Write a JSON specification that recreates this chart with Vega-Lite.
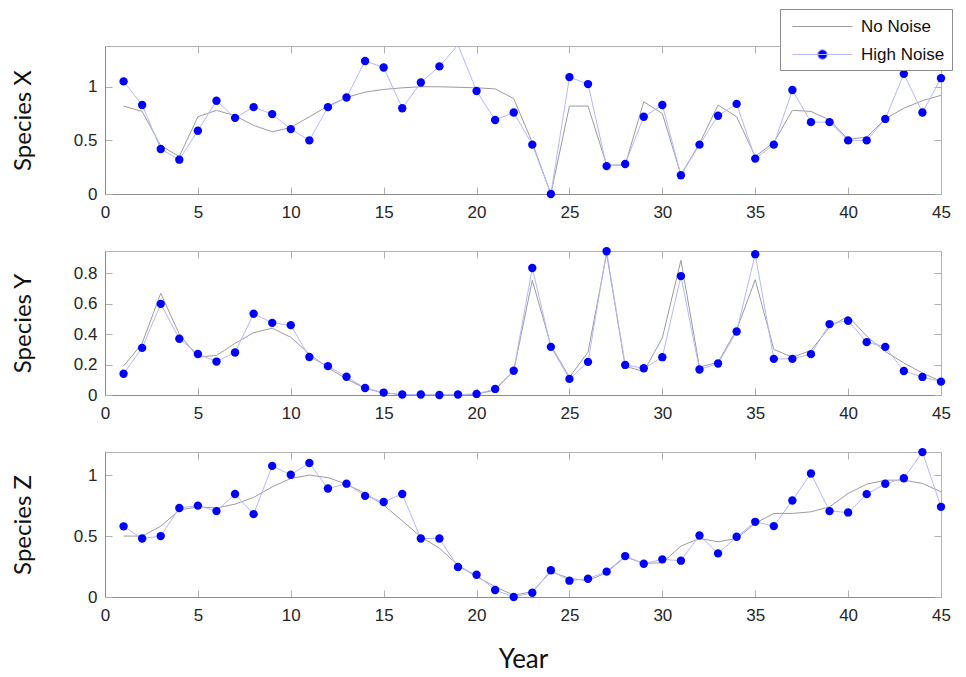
{
  "$schema": "https://vega.github.io/schema/vega-lite/v6.json",
  "padding": {"left": 10, "top": 8, "right": 0, "bottom": 0},
  "background": "white",
  "datasets": {
    "d": [
      {"sp":"X","year":1,"No Noise":0.82,"High Noise":1.05},
      {"sp":"X","year":2,"No Noise":0.77,"High Noise":0.83},
      {"sp":"X","year":3,"No Noise":0.45,"High Noise":0.42},
      {"sp":"X","year":4,"No Noise":0.35,"High Noise":0.32},
      {"sp":"X","year":5,"No Noise":0.72,"High Noise":0.59},
      {"sp":"X","year":6,"No Noise":0.78,"High Noise":0.87},
      {"sp":"X","year":7,"No Noise":0.73,"High Noise":0.71},
      {"sp":"X","year":8,"No Noise":0.64,"High Noise":0.81},
      {"sp":"X","year":9,"No Noise":0.58,"High Noise":0.745},
      {"sp":"X","year":10,"No Noise":0.62,"High Noise":0.605},
      {"sp":"X","year":11,"No Noise":0.72,"High Noise":0.50},
      {"sp":"X","year":12,"No Noise":0.82,"High Noise":0.81},
      {"sp":"X","year":13,"No Noise":0.90,"High Noise":0.90},
      {"sp":"X","year":14,"No Noise":0.95,"High Noise":1.24},
      {"sp":"X","year":15,"No Noise":0.975,"High Noise":1.18},
      {"sp":"X","year":16,"No Noise":0.99,"High Noise":0.80},
      {"sp":"X","year":17,"No Noise":1.0,"High Noise":1.04},
      {"sp":"X","year":18,"No Noise":1.0,"High Noise":1.19},
      {"sp":"X","year":19,"No Noise":0.995,"High Noise":1.39},
      {"sp":"X","year":20,"No Noise":0.99,"High Noise":0.96},
      {"sp":"X","year":21,"No Noise":0.98,"High Noise":0.69},
      {"sp":"X","year":22,"No Noise":0.89,"High Noise":0.76},
      {"sp":"X","year":23,"No Noise":0.48,"High Noise":0.46},
      {"sp":"X","year":24,"No Noise":0.0,"High Noise":0.0},
      {"sp":"X","year":25,"No Noise":0.82,"High Noise":1.09},
      {"sp":"X","year":26,"No Noise":0.82,"High Noise":1.025},
      {"sp":"X","year":27,"No Noise":0.27,"High Noise":0.26},
      {"sp":"X","year":28,"No Noise":0.27,"High Noise":0.28},
      {"sp":"X","year":29,"No Noise":0.86,"High Noise":0.72},
      {"sp":"X","year":30,"No Noise":0.75,"High Noise":0.83},
      {"sp":"X","year":31,"No Noise":0.18,"High Noise":0.175},
      {"sp":"X","year":32,"No Noise":0.47,"High Noise":0.46},
      {"sp":"X","year":33,"No Noise":0.83,"High Noise":0.73},
      {"sp":"X","year":34,"No Noise":0.72,"High Noise":0.84},
      {"sp":"X","year":35,"No Noise":0.35,"High Noise":0.33},
      {"sp":"X","year":36,"No Noise":0.48,"High Noise":0.46},
      {"sp":"X","year":37,"No Noise":0.78,"High Noise":0.97},
      {"sp":"X","year":38,"No Noise":0.77,"High Noise":0.67},
      {"sp":"X","year":39,"No Noise":0.69,"High Noise":0.67},
      {"sp":"X","year":40,"No Noise":0.51,"High Noise":0.50},
      {"sp":"X","year":41,"No Noise":0.53,"High Noise":0.50},
      {"sp":"X","year":42,"No Noise":0.70,"High Noise":0.70},
      {"sp":"X","year":43,"No Noise":0.80,"High Noise":1.12},
      {"sp":"X","year":44,"No Noise":0.87,"High Noise":0.76},
      {"sp":"X","year":45,"No Noise":0.92,"High Noise":1.08},
      {"sp":"Y","year":1,"No Noise":0.19,"High Noise":0.14},
      {"sp":"Y","year":2,"No Noise":0.34,"High Noise":0.31},
      {"sp":"Y","year":3,"No Noise":0.67,"High Noise":0.60},
      {"sp":"Y","year":4,"No Noise":0.40,"High Noise":0.37},
      {"sp":"Y","year":5,"No Noise":0.25,"High Noise":0.27},
      {"sp":"Y","year":6,"No Noise":0.26,"High Noise":0.22},
      {"sp":"Y","year":7,"No Noise":0.34,"High Noise":0.28},
      {"sp":"Y","year":8,"No Noise":0.41,"High Noise":0.535},
      {"sp":"Y","year":9,"No Noise":0.44,"High Noise":0.475},
      {"sp":"Y","year":10,"No Noise":0.38,"High Noise":0.46},
      {"sp":"Y","year":11,"No Noise":0.27,"High Noise":0.25},
      {"sp":"Y","year":12,"No Noise":0.18,"High Noise":0.19},
      {"sp":"Y","year":13,"No Noise":0.106,"High Noise":0.12},
      {"sp":"Y","year":14,"No Noise":0.044,"High Noise":0.046},
      {"sp":"Y","year":15,"No Noise":0.013,"High Noise":0.016},
      {"sp":"Y","year":16,"No Noise":0.003,"High Noise":0.003},
      {"sp":"Y","year":17,"No Noise":0.0,"High Noise":0.003},
      {"sp":"Y","year":18,"No Noise":0.0,"High Noise":0.0},
      {"sp":"Y","year":19,"No Noise":0.0,"High Noise":0.003},
      {"sp":"Y","year":20,"No Noise":0.005,"High Noise":0.007},
      {"sp":"Y","year":21,"No Noise":0.033,"High Noise":0.04},
      {"sp":"Y","year":22,"No Noise":0.16,"High Noise":0.16},
      {"sp":"Y","year":23,"No Noise":0.755,"High Noise":0.836},
      {"sp":"Y","year":24,"No Noise":0.326,"High Noise":0.317},
      {"sp":"Y","year":25,"No Noise":0.117,"High Noise":0.106},
      {"sp":"Y","year":26,"No Noise":0.282,"High Noise":0.218},
      {"sp":"Y","year":27,"No Noise":0.93,"High Noise":0.946},
      {"sp":"Y","year":28,"No Noise":0.19,"High Noise":0.198},
      {"sp":"Y","year":29,"No Noise":0.154,"High Noise":0.176},
      {"sp":"Y","year":30,"No Noise":0.376,"High Noise":0.249},
      {"sp":"Y","year":31,"No Noise":0.887,"High Noise":0.783},
      {"sp":"Y","year":32,"No Noise":0.183,"High Noise":0.168},
      {"sp":"Y","year":33,"No Noise":0.216,"High Noise":0.207},
      {"sp":"Y","year":34,"No Noise":0.43,"High Noise":0.418},
      {"sp":"Y","year":35,"No Noise":0.759,"High Noise":0.927},
      {"sp":"Y","year":36,"No Noise":0.30,"High Noise":0.238},
      {"sp":"Y","year":37,"No Noise":0.249,"High Noise":0.238},
      {"sp":"Y","year":38,"No Noise":0.293,"High Noise":0.269},
      {"sp":"Y","year":39,"No Noise":0.447,"High Noise":0.467},
      {"sp":"Y","year":40,"No Noise":0.52,"High Noise":0.489},
      {"sp":"Y","year":41,"No Noise":0.387,"High Noise":0.348},
      {"sp":"Y","year":42,"No Noise":0.286,"High Noise":0.317},
      {"sp":"Y","year":43,"No Noise":0.211,"High Noise":0.158},
      {"sp":"Y","year":44,"No Noise":0.145,"High Noise":0.119},
      {"sp":"Y","year":45,"No Noise":0.09,"High Noise":0.088},
      {"sp":"Z","year":1,"No Noise":0.50,"High Noise":0.58},
      {"sp":"Z","year":2,"No Noise":0.50,"High Noise":0.48},
      {"sp":"Z","year":3,"No Noise":0.58,"High Noise":0.50},
      {"sp":"Z","year":4,"No Noise":0.713,"High Noise":0.73},
      {"sp":"Z","year":5,"No Noise":0.74,"High Noise":0.75},
      {"sp":"Z","year":6,"No Noise":0.73,"High Noise":0.705},
      {"sp":"Z","year":7,"No Noise":0.762,"High Noise":0.845},
      {"sp":"Z","year":8,"No Noise":0.817,"High Noise":0.68},
      {"sp":"Z","year":9,"No Noise":0.904,"High Noise":1.076},
      {"sp":"Z","year":10,"No Noise":0.973,"High Noise":1.003},
      {"sp":"Z","year":11,"No Noise":1.0,"High Noise":1.10},
      {"sp":"Z","year":12,"No Noise":0.98,"High Noise":0.89},
      {"sp":"Z","year":13,"No Noise":0.926,"High Noise":0.93},
      {"sp":"Z","year":14,"No Noise":0.85,"High Noise":0.83},
      {"sp":"Z","year":15,"No Noise":0.754,"High Noise":0.78},
      {"sp":"Z","year":16,"No Noise":0.625,"High Noise":0.845},
      {"sp":"Z","year":17,"No Noise":0.494,"High Noise":0.48},
      {"sp":"Z","year":18,"No Noise":0.40,"High Noise":0.48},
      {"sp":"Z","year":19,"No Noise":0.262,"High Noise":0.246},
      {"sp":"Z","year":20,"No Noise":0.167,"High Noise":0.183},
      {"sp":"Z","year":21,"No Noise":0.085,"High Noise":0.057},
      {"sp":"Z","year":22,"No Noise":0.014,"High Noise":0.0},
      {"sp":"Z","year":23,"No Noise":0.044,"High Noise":0.035},
      {"sp":"Z","year":24,"No Noise":0.208,"High Noise":0.22},
      {"sp":"Z","year":25,"No Noise":0.153,"High Noise":0.134},
      {"sp":"Z","year":26,"No Noise":0.134,"High Noise":0.15},
      {"sp":"Z","year":27,"No Noise":0.20,"High Noise":0.208},
      {"sp":"Z","year":28,"No Noise":0.33,"High Noise":0.336},
      {"sp":"Z","year":29,"No Noise":0.276,"High Noise":0.273},
      {"sp":"Z","year":30,"No Noise":0.281,"High Noise":0.309},
      {"sp":"Z","year":31,"No Noise":0.418,"High Noise":0.298},
      {"sp":"Z","year":32,"No Noise":0.481,"High Noise":0.505},
      {"sp":"Z","year":33,"No Noise":0.453,"High Noise":0.358},
      {"sp":"Z","year":34,"No Noise":0.481,"High Noise":0.494},
      {"sp":"Z","year":35,"No Noise":0.604,"High Noise":0.617},
      {"sp":"Z","year":36,"No Noise":0.686,"High Noise":0.582},
      {"sp":"Z","year":37,"No Noise":0.686,"High Noise":0.792},
      {"sp":"Z","year":38,"No Noise":0.699,"High Noise":1.014},
      {"sp":"Z","year":39,"No Noise":0.74,"High Noise":0.705},
      {"sp":"Z","year":40,"No Noise":0.85,"High Noise":0.694},
      {"sp":"Z","year":41,"No Noise":0.926,"High Noise":0.844},
      {"sp":"Z","year":42,"No Noise":0.959,"High Noise":0.929},
      {"sp":"Z","year":43,"No Noise":0.959,"High Noise":0.975},
      {"sp":"Z","year":44,"No Noise":0.932,"High Noise":1.189},
      {"sp":"Z","year":45,"No Noise":0.863,"High Noise":0.74}
    ]
  },
  "data": {"name": "d"},
  "transform": [{"fold": ["No Noise", "High Noise"], "as": ["noise", "value"]}],
  "vconcat": [
    {
      "width": 836, "height": 148,
      "transform": [{"filter": "datum.sp === 'X'"}],
      "layer": [
        {
          "mark": {"type": "line", "strokeWidth": 1, "clip": true},
          "encoding": {
            "x": {"field": "year", "type": "quantitative", "scale": {"domain": [0, 45], "nice": false}, "axis": {"values": [0,5,10,15,20,25,30,35,40,45], "title": null}},
            "y": {"field": "value", "type": "quantitative", "scale": {"domain": [0, 1.38], "nice": false, "zero": false}, "axis": {"values": [0, 0.5, 1], "format": "~g", "title": "Species X", "titleX": -82, "titleBaseline": "middle"}},
            "color": {"field": "noise", "type": "nominal", "scale": {"domain": ["No Noise", "High Noise"], "range": ["#9c9c9c", "#b4b8ff"]},
              "legend": {"orient": "none", "legendX": 675, "legendY": -37, "title": null, "direction": "vertical", "fillColor": "white", "strokeColor": "#8c8c8c", "padding": 7, "symbolSize": 400, "symbolOffset": 25, "labelOffset": 28, "rowPadding": 9, "labelFont": "Liberation Sans", "labelFontSize": 17, "labelColor": "#111111", "symbolStrokeWidth": 1,
                "encode": {"symbols": {"update": {
                  "shape": {"signal": "datum.value === 'High Noise' ? 'M-3,0L3,0M-0.48,0A0.48,0.48,0,1,1,0.48,0A0.48,0.48,0,1,1,-0.48,0' : 'M-3,0L3,0'"},
                  "fill": {"signal": "datum.value === 'High Noise' ? '#0000ff' : 'transparent'"},
                  "fillOpacity": {"value": 1}
                }}}}}
          }
        },
        {
          "mark": {"type": "point", "filled": true, "size": 70, "color": "#0000ff", "opacity": 1},
          "transform": [{"filter": "datum.noise === 'High Noise' && datum.value <= 1.38"}],
          "encoding": {
            "x": {"field": "year", "type": "quantitative", "axis": {"orient": "top", "values": [0,5,10,15,20,25,30,35,40,45], "labels": false, "domain": false, "title": null}},
            "y": {"field": "value", "type": "quantitative", "axis": {"orient": "right", "values": [0, 0.5, 1], "labels": false, "domain": false, "title": null}}
          }
        }
      ],
      "resolve": {"axis": {"x": "independent", "y": "independent"}}
    },
    {
      "width": 836, "height": 144,
      "transform": [{"filter": "datum.sp === 'Y'"}],
      "layer": [
        {
          "mark": {"type": "line", "strokeWidth": 1, "clip": true},
          "encoding": {
            "x": {"field": "year", "type": "quantitative", "scale": {"domain": [0, 45], "nice": false}, "axis": {"values": [0,5,10,15,20,25,30,35,40,45], "title": null}},
            "y": {"field": "value", "type": "quantitative", "scale": {"domain": [0, 0.948], "nice": false, "zero": false}, "axis": {"values": [0, 0.2, 0.4, 0.6, 0.8], "format": "~g", "title": "Species Y", "titleX": -82, "titleBaseline": "middle"}},
            "color": {"field": "noise", "type": "nominal"}
          }
        },
        {
          "mark": {"type": "point", "filled": true, "size": 70, "color": "#0000ff", "opacity": 1},
          "transform": [{"filter": "datum.noise === 'High Noise'"}],
          "encoding": {
            "x": {"field": "year", "type": "quantitative", "axis": {"orient": "top", "values": [0,5,10,15,20,25,30,35,40,45], "labels": false, "domain": false, "title": null}},
            "y": {"field": "value", "type": "quantitative", "axis": {"orient": "right", "values": [0, 0.2, 0.4, 0.6, 0.8], "labels": false, "domain": false, "title": null}}
          }
        }
      ],
      "resolve": {"axis": {"x": "independent", "y": "independent"}}
    },
    {
      "width": 836, "height": 145,
      "transform": [{"filter": "datum.sp === 'Z'"}],
      "layer": [
        {
          "mark": {"type": "line", "strokeWidth": 1, "clip": true},
          "encoding": {
            "x": {"field": "year", "type": "quantitative", "scale": {"domain": [0, 45], "nice": false}, "axis": {"values": [0,5,10,15,20,25,30,35,40,45], "title": "Year", "titleY": 62, "titleBaseline": "middle", "titleFontSize": 26}},
            "y": {"field": "value", "type": "quantitative", "scale": {"domain": [0, 1.19], "nice": false, "zero": false}, "axis": {"values": [0, 0.5, 1], "format": "~g", "title": "Species Z", "titleX": -82, "titleBaseline": "middle"}},
            "color": {"field": "noise", "type": "nominal"}
          }
        },
        {
          "mark": {"type": "point", "filled": true, "size": 70, "color": "#0000ff", "opacity": 1},
          "transform": [{"filter": "datum.noise === 'High Noise'"}],
          "encoding": {
            "x": {"field": "year", "type": "quantitative", "axis": {"orient": "top", "values": [0,5,10,15,20,25,30,35,40,45], "labels": false, "domain": false, "title": null}},
            "y": {"field": "value", "type": "quantitative", "axis": {"orient": "right", "values": [0, 0.5, 1], "labels": false, "domain": false, "title": null}}
          }
        }
      ],
      "resolve": {"axis": {"x": "independent", "y": "independent"}}
    }
  ],
  "spacing": 57,
  "bounds": "flush",
  "config": {
    "view": {"stroke": "#b4b4b4", "strokeWidth": 1},
    "axis": {"grid": false, "domainColor": "#8c8c8c", "tickColor": "#b0b0b0", "tickSize": -7, "labelFont": "Liberation Sans", "labelFontSize": 17, "labelColor": "#262626", "labelFlush": false, "labelOverlap": false, "titleFont": "Lato", "titleFontSize": 24, "titleFontWeight": "normal", "titleColor": "#111111"},
    "axisX": {"labelPadding": 17},
    "axisY": {"labelPadding": 15}
  }
}
